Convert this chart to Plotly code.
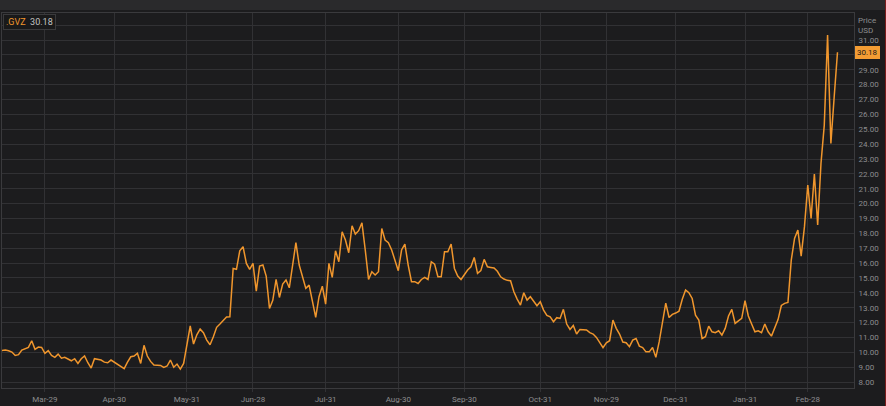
import pandas as pd
import plotly.graph_objects as go

# ---- data ----
holidays = ["2019-04-19", "2019-05-27", "2019-07-04", "2019-09-02", "2019-11-28",
            "2019-12-25", "2020-01-01", "2020-01-20", "2020-02-17"]

gvz_mar_may = [10.13, 10.15, 10.11, 10.02, 9.79, 9.84, 10.15, 10.22, 10.33, 10.78,
               10.20, 10.35, 10.33, 9.93, 10.11, 9.79, 9.66, 9.88, 9.61, 9.66,
               9.52, 9.43, 9.57, 9.25, 9.57, 9.75, 9.30, 8.94, 9.57, 9.55,
               9.48, 9.34, 9.30, 9.48, 9.32, 9.19, 9.03, 8.90, 9.34, 9.70,
               9.75, 9.93, 9.25, 10.47, 9.75, 9.39, 9.14, 9.14, 9.12, 8.99,
               9.08, 9.48, 8.99, 9.21, 8.87, 9.25, 10.38, 11.77, 10.56, 11.18,
               11.56, 11.32, 10.82, 10.51, 11.05, 11.68, 11.90]
gvz_jun_oct = [12.12, 12.37, 12.39, 15.64, 15.58, 16.83, 17.10, 15.98, 15.58, 15.98,
               14.12, 15.80, 15.87, 15.13, 12.95, 13.50, 14.90, 13.69, 14.59, 14.86,
               14.34, 15.75, 17.37, 15.87, 15.04, 14.30, 14.52, 13.50, 12.35, 13.74,
               14.45, 13.24, 15.98, 15.04, 16.83, 16.09, 18.11, 17.55, 16.70, 18.51,
               17.95, 18.18, 18.71, 16.88, 14.90, 15.42, 15.20, 15.42, 18.33, 17.55,
               17.37, 16.88, 16.25, 15.49, 16.88, 17.28, 15.87, 14.75, 14.75, 14.63,
               14.90, 15.04, 14.90, 16.09, 15.93, 15.08, 15.08, 16.76, 16.76, 17.28,
               15.64, 15.13, 14.90, 15.26, 15.53, 15.75, 16.38, 15.31, 15.49, 16.25,
               15.75, 15.71, 15.67, 15.45]
gvz_oct_dec = [15.08, 14.93, 14.84, 14.81, 14.07, 13.58, 13.18, 14.01, 13.51, 13.74,
               13.40, 13.13, 13.40, 12.84, 12.48, 12.39, 12.06, 12.33, 12.28, 12.89,
               11.90, 11.54, 11.81, 11.23, 11.54, 11.54, 11.50, 11.32, 11.23, 11.00,
               10.64, 10.31, 10.64, 10.78, 12.17, 11.61, 11.23, 10.69, 10.64]
gvz_dec_feb = [10.38, 10.82, 10.93, 10.42, 10.32, 10.03, 10.03, 10.32, 9.66, 10.70,
               12.05, 13.31, 12.34, 12.55, 12.64, 12.76, 13.57, 14.19, 14.01, 13.62,
               12.50, 12.17, 10.93, 11.05, 11.76, 11.38, 11.32, 11.45, 11.16, 11.61,
               12.44, 12.89, 11.94, 12.12, 12.28, 13.47, 12.44, 11.90, 11.38, 11.45,
               11.32, 11.90, 11.38, 11.09]
gvz_feb_mar = [11.60, 12.20, 13.15, 13.29, 13.35, 16.20, 17.66, 18.22, 16.47, 18.45,
               21.25, 19.01, 21.99, 18.56, 22.70, 25.28, 31.34, 24.05, 27.19, 30.18]

tick_dates = ["2019-03-29", "2019-04-30", "2019-05-31", "2019-06-28", "2019-07-31",
              "2019-08-30", "2019-09-30", "2019-10-31", "2019-11-29", "2019-12-31",
              "2020-01-31", "2020-02-28"]
tick_labels = ["Mar-29", "Apr-30", "May-31", "Jun-28", "Jul-31", "Aug-30",
               "Sep-30", "Oct-31", "Nov-29", "Dec-31", "Jan-31", "Feb-28"]
price_ticks = list(range(8, 33))

values = gvz_mar_may + gvz_jun_oct + gvz_oct_dec + gvz_dec_feb + gvz_feb_mar
dates = [d.strftime("%Y-%m-%d") for d in pd.bdate_range("2019-03-12", "2020-03-12")
         if d.strftime("%Y-%m-%d") not in holidays]
n = min(len(dates), len(values))
dates, values = dates[:n], values[:n]
last = values[-1]

ORANGE = "#f0962d"
GRID = "#313134"
LABEL = "#8c8c8e"

fig = go.Figure(go.Scatter(x=dates, y=values, mode="lines",
                           line=dict(color=ORANGE, width=1.5), hoverinfo="skip"))

# plot area: x 2..854, y 13..388
W, H = 886, 406
L, R, T, B = 2, 32, 13, 18
pw, ph = W - L - R, H - T - B

def px_x(p):
    return (p - L) / pw

def px_y(p):
    return 1 - (p - T) / ph

# price labels: the top line is replaced by the "Price USD" caption and the
# label next to the last value is covered by the last-value marker
price_text = ["" if (v >= 32 or abs(v - last) < 0.6) else f"{v:.2f}" for v in price_ticks]

fig.update_layout(
    width=W, height=H,
    margin=dict(l=L, r=R, t=T, b=B, autoexpand=False),
    paper_bgcolor="#1c1c1e",
    plot_bgcolor="#1c1c1e",
    showlegend=False,
    font=dict(family="Roboto, Liberation Sans, sans-serif", size=8, color=LABEL),
    xaxis=dict(type="category", range=[0, 258], tickvals=tick_dates, ticktext=tick_labels,
               showgrid=True, gridcolor=GRID, gridwidth=1, zeroline=False,
               ticks="outside", ticklen=3, tickcolor=GRID,
               showline=True, linecolor="#3a3a3d", mirror=True,
               tickfont=dict(size=8, color=LABEL)),
    yaxis=dict(side="right", range=[7.6, 32.82], tickvals=price_ticks, ticktext=price_text,
               showgrid=True, gridcolor=GRID, gridwidth=1, zeroline=False,
               showline=True, linecolor="#3a3a3d", mirror=True,
               ticks="outside", ticklen=2, tickcolor="rgba(0,0,0,0)",
               tickfont=dict(size=8, color=LABEL)),
    shapes=[
        dict(type="rect", xref="paper", yref="paper", x0=-0.01, x1=1.05,
             y0=px_y(10), y1=px_y(-2), fillcolor="#2a2a2c", line=dict(width=0), layer="below"),
        dict(type="line", xref="paper", yref="paper", x0=px_x(885.5), x1=px_x(885.5),
             y0=px_y(410), y1=px_y(-2), line=dict(color="#7a1c1c", width=1)),
    ],
    annotations=[
        dict(xref="paper", yref="paper", x=px_x(3), y=px_y(14), xanchor="left", yanchor="top",
             text=f"<span style='color:{ORANGE}'>.GVZ</span>  <span style='color:#c4c4c4'>{last:.2f}</span>",
             showarrow=False, bgcolor="#19191a", bordercolor="#3a3a3c", borderwidth=1,
             borderpad=2, font=dict(size=9)),
        dict(xref="paper", yref="paper", x=px_x(856), y=px_y(14), xanchor="left", yanchor="top",
             text="Price<br>USD", showarrow=False, align="left",
             font=dict(size=8, color=LABEL)),
        dict(xref="paper", yref="y", x=px_x(855), y=last, xanchor="left", yanchor="middle",
             text=f"{last:.2f}", showarrow=False, bgcolor="#f39c33",
             bordercolor="#f39c33", borderpad=1, font=dict(size=8, color="#1a1a1a")),
    ],
)

fig.write_html("out.html", config={"displayModeBar": False},
               post_script="document.body.style.margin='0';document.body.style.background='#1c1c1e';")
